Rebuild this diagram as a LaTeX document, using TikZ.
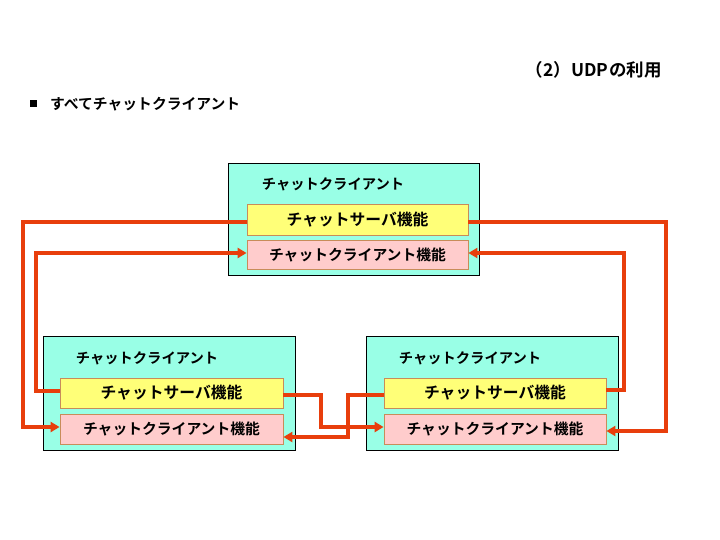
\documentclass[tikz,border=0pt]{standalone}
\usepackage{fontspec}
\newfontfamily\jp{Noto Sans CJK JP Bold}
\usetikzlibrary{arrows.meta}
\definecolor{boxfill}{RGB}{153,255,230}
\definecolor{srvfill}{RGB}{255,255,120}
\definecolor{clifill}{RGB}{255,204,204}
\definecolor{innerdraw}{RGB}{200,140,90}
\definecolor{arrowc}{RGB}{232,62,12}
\tikzset{
  outerbox/.style={draw=black, line width=0.8pt, fill=boxfill},
  srvbox/.style={draw=innerdraw, line width=0.8pt, fill=srvfill},
  clibox/.style={draw=innerdraw, line width=0.8pt, fill=clifill},
  title/.style={font=\jp\fontsize{14.3}{16}\selectfont, inner sep=0pt},
  srvtxt/.style={font=\jp\fontsize{15.8}{17}\selectfont, inner sep=0pt},
  clitxt/.style={font=\jp\fontsize{14.8}{16}\selectfont, inner sep=0pt},
  linka/.style={draw=arrowc, line width=4pt, -{Triangle[length=9pt,width=10pt]}},
}
\begin{document}
\begin{tikzpicture}[x=1pt,y=-1pt]
\useasboundingbox (0,0) rectangle (720,540);
% header
\node[font=\jp\fontsize{17.5}{19}\selectfont, anchor=east, inner sep=0pt] (hdr) at (662,70) {（2）UDP\hspace{1pt}の利用};
\node[fill=black, minimum size=7pt, inner sep=0pt] (bul) at (33.5,103.5) {};
\node[font=\jp\fontsize{14.8}{16}\selectfont, anchor=west, inner sep=0pt] (sub) at (50,104) {すべてチャットクライアント};

% top client
\draw[outerbox] (228,163) rectangle (479,275);
\node[title] (tt) at (333,184) {チャットクライアント};
\node[srvbox, minimum width=221pt, minimum height=31pt, inner sep=0pt] (ts) at (357.5,219.5) {};
\node[srvtxt] at (ts) {チャットサーバ機能};
\node[clibox, minimum width=221pt, minimum height=29pt, inner sep=0pt] (tc) at (357.5,255) {};
\node[clitxt] at (tc) {チャットクライアント機能};

% bottom left client
\draw[outerbox] (43,336) rectangle (295,450);
\node[title] (lt) at (147,358) {チャットクライアント};
\node[srvbox, minimum width=223pt, minimum height=30pt, inner sep=0pt] (ls) at (171.5,393) {};
\node[srvtxt] at (ls) {チャットサーバ機能};
\node[clibox, minimum width=223pt, minimum height=30pt, inner sep=0pt] (lc) at (171.5,429) {};
\node[clitxt] at (lc) {チャットクライアント機能};

% bottom right client
\draw[outerbox] (366,336) rectangle (618,450);
\node[title] (rt) at (470,358) {チャットクライアント};
\node[srvbox, minimum width=222pt, minimum height=30pt, inner sep=0pt] (rs) at (495,393) {};
\node[srvtxt] at (rs) {チャットサーバ機能};
\node[clibox, minimum width=222pt, minimum height=30pt, inner sep=0pt] (rc) at (495,429) {};
\node[clitxt] at (rc) {チャットクライアント機能};

% connectors
\draw[linka] (ts.west |- 0,222) -- (23,222) -- (23,427) -- (lc.west |- 0,427);
\draw[linka] (ls.west |- 0,391) -- (36,391) -- (36,253) -- (tc.west |- 0,253);
\draw[linka] (ts.east |- 0,222) -- (666,222) -- (666,431) -- (rc.east |- 0,431);
\draw[linka] (rs.east |- 0,390) -- (624,390) -- (624,253) -- (tc.east |- 0,253);
\draw[linka] (ls.east |- 0,395) -- (321,395) -- (321,427) -- (rc.west |- 0,427);
\draw[linka] (rs.west |- 0,395) -- (348,395) -- (348,437) -- (lc.east |- 0,437);
\end{tikzpicture}
\end{document}
